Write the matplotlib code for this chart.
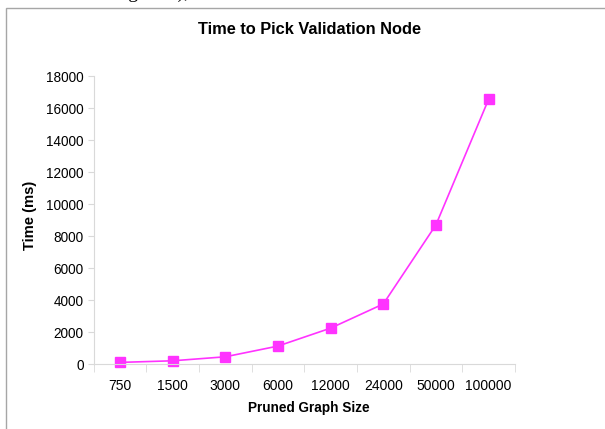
import matplotlib
matplotlib.use('Agg')
import matplotlib.pyplot as plt
from matplotlib.patches import Rectangle

sizes = ['750', '1500', '3000', '6000', '12000', '24000', '50000', '100000']
times_ms = [100, 200, 450, 1120, 2240, 3750, 8700, 16550]
y_ticks = list(range(0, 18001, 2000))

plt.rcParams['font.family'] = ['Liberation Sans', 'DejaVu Sans']

W, H = 605, 429
fig = plt.figure(figsize=(W / 100, H / 100), dpi=100)

# leftover caption text from the page, mostly cut off at the top
fig.text(112 / W, 1 + 2.5 / H, 'Figure 3),', family=['Liberation Serif'],
         fontsize=14, va='baseline', ha='left')

# chart frame (clipped at right and bottom)
fig.patches.append(Rectangle((5.5 / W, -0.1), 1.2, 1 - 8.5 / H + 0.1,
                             transform=fig.transFigure, fill=False,
                             edgecolor='#a6a6a6', linewidth=1))

ax = fig.add_axes([93.5 / W, 65 / H, (515 - 93.5) / W, 288 / H])
x = list(range(len(sizes)))
ax.plot(x, times_ms, color='#ff33ff', marker='s', markersize=7,
        linewidth=1.2, clip_on=False)

ax.set_xlim(-0.5, len(sizes) - 0.5)
ax.set_ylim(0, 18000)
ax.set_xticks(x)
ax.set_xticklabels(sizes)
ax.set_xticks([i - 0.5 for i in range(len(sizes) + 1)], minor=True)
ax.set_yticks(y_ticks)
ax.tick_params(axis='x', which='major', length=0, pad=11, labelsize=10)
ax.tick_params(axis='x', which='minor', length=6, color='#d9d9d9')
ax.tick_params(axis='y', length=4, color='#d9d9d9', labelsize=9.8, pad=3)

for side in ['top', 'right']:
    ax.spines[side].set_visible(False)
for side in ['left', 'bottom']:
    ax.spines[side].set_color('#d9d9d9')

fig.text(308.5 / W, 1 - 408 / H, 'Pruned Graph Size', fontsize=9.8,
         fontweight='bold', ha='center', va='center')
fig.text(30 / W, 1 - 215 / H, 'Time (ms)', fontsize=10.6, fontweight='bold',
         ha='center', va='center', rotation=90)
fig.text(310 / W, 1 - 30 / H, 'Time to Pick Validation Node', fontsize=11.8,
         fontweight='bold', ha='center', va='center')

fig.savefig('out.png', dpi=100)
